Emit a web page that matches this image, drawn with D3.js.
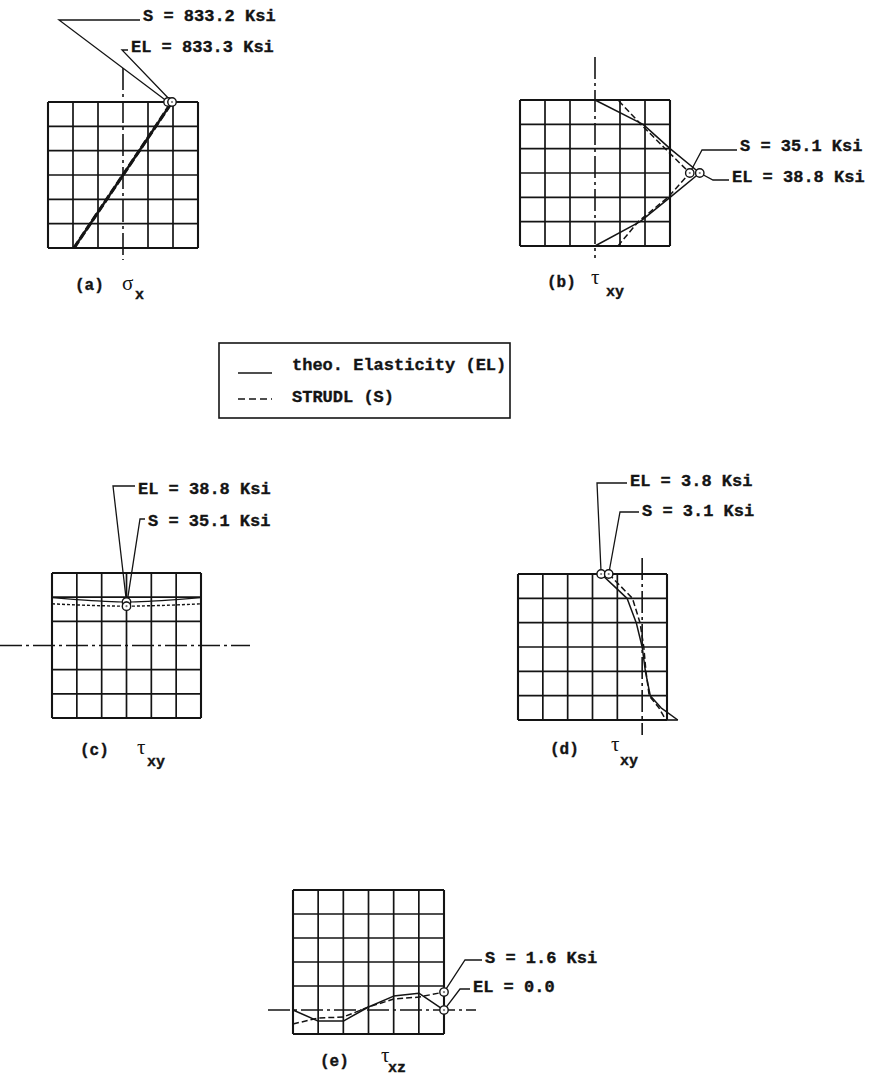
<!DOCTYPE html>
<html>
<head>
<meta charset="utf-8">
<script src="https://cdn.jsdelivr.net/npm/d3@7"></script>
<style>
  html, body { margin: 0; padding: 0; background: #fff; }
  svg { display: block; }
  .mono { font-family: "Liberation Mono", "Courier New", monospace; font-weight: bold; fill: #141414; stroke: #141414; stroke-width: 0.35px; }
  .greek { font-family: "Liberation Serif", "DejaVu Serif", serif; fill: #141414; }
</style>
</head>
<body>
<svg id="chart" width="869" height="1076"></svg>
<script>
// ---------------- data (stresses in Ksi) ----------------
const gridSteps = [0, 1, 2, 3, 4, 5, 6];

// (a) normal stress sigma_x, linear through the depth
const aDepth = [0, 6];
const aEL = [-833.3, 833.3];
const aS  = [-833.2, 833.2];

// (b) shear stress tau_xy through the depth (bottom -> top)
const bDepth = [0, 1, 2, 3, 4, 5, 6];
const bEL = [0, 16.7, 27.8, 38.8, 27.8, 17.8, 0];
const bS  = [8.5, 16.0, 27.0, 35.1, 26.0, 17.0, 8.5];

// (c) shear stress tau_xy across the width (left -> right)
const cPos = [0, 1, 2, 3, 4, 5, 6];
const cEL = [42.7, 41.0, 39.6, 38.8, 39.6, 41.0, 42.7];
const cS  = [37.2, 36.2, 35.5, 35.1, 35.5, 36.2, 37.2];

// (d) shear stress tau_xy near the edge (top -> bottom)
const dDepth = [6, 5.5, 5, 4, 3, 2, 1, 0.5, 0];
const dEL = [3.8, 2.6, 1.4, 0.55, 0, -0.3, -0.75, -1.75, -3.3];
const dS  = [3.1, 2.0, 0.9, 0.2, -0.15, -0.35, -0.65, -1.55, -2.2];

// (e) shear stress tau_xz across the width (left -> right)
const ePos = [0, 1, 2, 3, 4, 5, 6];
const eEL = [0, -0.98, -0.98, 0.27, 1.24, 1.5, 0];
const eS  = [-1.24, -0.71, -0.62, 0.27, 0.98, 1.15, 1.6];

const legendLabels = ["theo. Elasticity (EL)", "STRUDL (S)"];
const panelLetters = ["(a)", "(b)", "(c)", "(d)", "(e)"];
const panelSymbols = ["σ", "τ", "τ", "τ", "τ"];
const panelSubs    = ["x", "xy", "xy", "xy", "xz"];

// ---------------- drawing ----------------
const ink = "#141414";
const svg = d3.select("#chart");
const fmt = d3.format(".1f");

const seriesStyle = {
  EL: { width: 1.5, dash: null },
  S:  { width: 1.5, dash: "6,3" }
};

// orient "v": stress runs horizontally, position runs vertically.
// orient "h": position runs horizontally, stress runs vertically.
const panels = [
  {
    orient: "v", frame: { x0: 48, x1: 198, y0: 102, y1: 248 },
    valDomain: [-1275, 1275], axisExtent: [68, 260],
    series: [
      { kind: "EL", pos: aDepth, vals: aEL, width: 2.4 },
      { kind: "S",  pos: aDepth, vals: aS,  width: 3.2, dash: "8,3" }
    ],
    notes: [
      { kind: "S",  idx: 1, label: v => `S = ${fmt(v)} Ksi`,  elbow: [59, 20],  text: [143, 21], nudge: -4 },
      { kind: "EL", idx: 1, label: v => `EL = ${fmt(v)} Ksi`, elbow: [122, 50], text: [131, 52], nudge: 0 }
    ],
    title: { letter: [75, 290], symbol: [122, 290], sub: [135, 299] }
  },
  {
    orient: "v", frame: { x0: 520, x1: 670, y0: 100, y1: 246 },
    valDomain: [-27.78, 27.78], axisExtent: [57, 258],
    series: [
      { kind: "EL", pos: bDepth, vals: bEL },
      { kind: "S",  pos: bDepth, vals: bS }
    ],
    notes: [
      { kind: "S",  idx: 3, label: v => `S = ${fmt(v)} Ksi`,  elbow: [702, 150], text: [740, 151], nudge: 0 },
      { kind: "EL", idx: 3, label: v => `EL = ${fmt(v)} Ksi`, elbow: [713, 180], text: [732, 182], nudge: 0 }
    ],
    title: { letter: [547, 287], symbol: [591, 284], sub: [606, 296] }
  },
  {
    orient: "h", frame: { x0: 52, x1: 201, y0: 573, y1: 718 },
    valDomain: [-64.7, 64.7], axisExtent: [0, 250],
    series: [
      { kind: "EL", pos: cPos, vals: cEL, width: 1.2, curve: d3.curveMonotoneX },
      { kind: "S",  pos: cPos, vals: cS,  width: 1.4, dash: "3,2", curve: d3.curveMonotoneX }
    ],
    notes: [
      { kind: "EL", idx: 3, label: v => `EL = ${fmt(v)} Ksi`, elbow: [113, 486], text: [138, 494], nudge: 0 },
      { kind: "S",  idx: 3, label: v => `S = ${fmt(v)} Ksi`,  elbow: [140, 519], text: [148, 526], nudge: 0 }
    ],
    title: { letter: [80, 755], symbol: [137, 754], sub: [147, 766] }
  },
  {
    orient: "v", frame: { x0: 518, x1: 667, y0: 574, y1: 720 },
    valDomain: [11.5, -2.3], axisExtent: [558, 735], closeBase: true,
    series: [
      { kind: "EL", pos: dDepth, vals: dEL },
      { kind: "S",  pos: dDepth, vals: dS }
    ],
    notes: [
      { kind: "EL", idx: 0, label: v => `EL = ${fmt(v)} Ksi`, elbow: [597, 483], text: [630, 486], nudge: 0 },
      { kind: "S",  idx: 0, label: v => `S = ${fmt(v)} Ksi`,  elbow: [620, 512], text: [642, 516], nudge: 0 }
    ],
    title: { letter: [550, 754], symbol: [611, 751], sub: [620, 765] }
  },
  {
    orient: "h", frame: { x0: 293, x1: 444, y0: 890, y1: 1034 },
    valDomain: [-2.13, 10.67], axisExtent: [268, 476],
    series: [
      { kind: "EL", pos: ePos, vals: eEL },
      { kind: "S",  pos: ePos, vals: eS }
    ],
    notes: [
      { kind: "S",  idx: 6, label: v => `S = ${fmt(v)} Ksi`, elbow: [465, 960], text: [485, 963], nudge: 0 },
      { kind: "EL", idx: 6, label: v => `EL = ${fmt(v)}`,    elbow: [460, 989], text: [473, 992], nudge: 0 }
    ],
    title: { letter: [320, 1066], symbol: [381, 1062], sub: [388, 1072] }
  }
];

panels.forEach((p, pi) => {
  const f = p.frame;
  const g = svg.append("g");
  const gx = d3.scaleLinear().domain([0, 6]).range([f.x0, f.x1]);
  const gy = d3.scaleLinear().domain([0, 6]).range([f.y1, f.y0]);

  // stress scale and position scale
  let val, pos, pt;
  if (p.orient === "v") {
    val = d3.scaleLinear().domain(p.valDomain).range([f.x0, f.x1]);
    pos = gy;
    pt = (ps, v) => [val(v), pos(ps)];
  } else {
    val = d3.scaleLinear().domain(p.valDomain).range([f.y1, f.y0]);
    pos = gx;
    pt = (ps, v) => [pos(ps), val(v)];
  }
  const zero = val(0);

  // grid (the cell line that coincides with the zero axis is replaced by it)
  const vLines = gridSteps.filter(i => !(p.orient === "v" && Math.abs(gx(i) - zero) < 3));
  const hLines = gridSteps.filter(i => !(p.orient === "h" && Math.abs(gy(i) - zero) < 3));
  g.selectAll(".gv").data(vLines).join("line")
    .attr("x1", d => gx(d)).attr("x2", d => gx(d))
    .attr("y1", f.y0).attr("y2", f.y1)
    .attr("stroke", ink).attr("stroke-width", d => (d === 0 || d === 6) ? 2.1 : 1.7);
  g.selectAll(".gh").data(hLines).join("line")
    .attr("x1", f.x0).attr("x2", f.x1)
    .attr("y1", d => gy(d)).attr("y2", d => gy(d))
    .attr("stroke", ink).attr("stroke-width", d => (d === 0 || d === 6) ? 2.1 : 1.7);

  // zero axis, dash-dot
  const ax = g.append("line")
    .attr("stroke", ink).attr("stroke-width", 1.6)
    .attr("stroke-dasharray", "22,4,3,4");
  if (p.orient === "v") {
    ax.attr("x1", zero).attr("x2", zero).attr("y1", p.axisExtent[0]).attr("y2", p.axisExtent[1]);
  } else {
    ax.attr("y1", zero).attr("y2", zero).attr("x1", p.axisExtent[0]).attr("x2", p.axisExtent[1]);
  }

  // stress curves
  p.series.forEach(s => {
    const st = seriesStyle[s.kind];
    const pts = s.pos.map((ps, i) => pt(ps, s.vals[i]));
    g.append("path")
      .attr("d", d3.line().curve(s.curve || d3.curveLinear)(pts))
      .attr("fill", "none").attr("stroke", ink)
      .attr("stroke-width", s.width || st.width)
      .attr("stroke-linejoin", "round")
      .attr("stroke-dasharray", s.kind === "S" ? (s.dash || st.dash) : null);
  });

  // base line closing the two curves at the lower edge
  if (p.closeBase) {
    const el = p.series.find(s => s.kind === "EL");
    const sv = p.series.find(s => s.kind === "S");
    const n = el.vals.length - 1;
    const a = pt(el.pos[n], el.vals[n]), b = pt(sv.pos[n], sv.vals[n]);
    g.append("line").attr("x1", a[0]).attr("y1", a[1]).attr("x2", b[0]).attr("y2", b[1])
      .attr("stroke", ink).attr("stroke-width", 1.6);
  }

  // value call-outs: leader, circle, label
  p.notes.forEach(n => {
    const s = p.series.find(q => q.kind === n.kind);
    const v = s.vals[n.idx];
    const c = pt(s.pos[n.idx], v);
    c[0] += n.nudge;
    g.append("path")
      .attr("d", d3.line()([c, n.elbow, [n.text[0] - 3, n.elbow[1]]]))
      .attr("fill", "none").attr("stroke", ink).attr("stroke-width", 1.3);
    n.center = c;
    n.value = v;
  });
  p.notes.forEach(n => {
    g.append("circle").attr("cx", n.center[0]).attr("cy", n.center[1]).attr("r", 4.2)
      .attr("fill", "#fff").attr("stroke", ink).attr("stroke-width", 1.4);
    g.append("circle").attr("cx", n.center[0]).attr("cy", n.center[1]).attr("r", 1.1)
      .attr("fill", "#777");
    g.append("text").attr("class", "mono").attr("font-size", 17)
      .attr("x", n.text[0]).attr("y", n.text[1])
      .text(n.label(n.value));
  });

  // panel caption
  const t = p.title;
  g.append("text").attr("class", "mono").attr("font-size", 16)
    .attr("x", t.letter[0]).attr("y", t.letter[1]).text(panelLetters[pi]);
  g.append("text").attr("class", "greek").attr("font-size", 21)
    .attr("x", t.symbol[0]).attr("y", t.symbol[1]).text(panelSymbols[pi]);
  g.append("text").attr("class", "mono").attr("font-size", 15)
    .attr("x", t.sub[0]).attr("y", t.sub[1]).text(panelSubs[pi]);
});

// legend
const lg = svg.append("g");
lg.append("rect").attr("x", 219).attr("y", 343).attr("width", 291).attr("height", 75)
  .attr("fill", "none").attr("stroke", ink).attr("stroke-width", 1.6);
const legendKinds = ["EL", "S"];
legendLabels.forEach((lab, i) => {
  const y = 373 + i * 26;
  lg.append("line").attr("x1", 238).attr("x2", 272).attr("y1", y).attr("y2", y)
    .attr("stroke", ink).attr("stroke-width", 1.6)
    .attr("stroke-dasharray", legendKinds[i] === "S" ? "7,4" : null);
  lg.append("text").attr("class", "mono").attr("font-size", 17)
    .attr("x", 292).attr("y", 370 + i * 32).text(lab);
});
</script>
</body>
</html>
